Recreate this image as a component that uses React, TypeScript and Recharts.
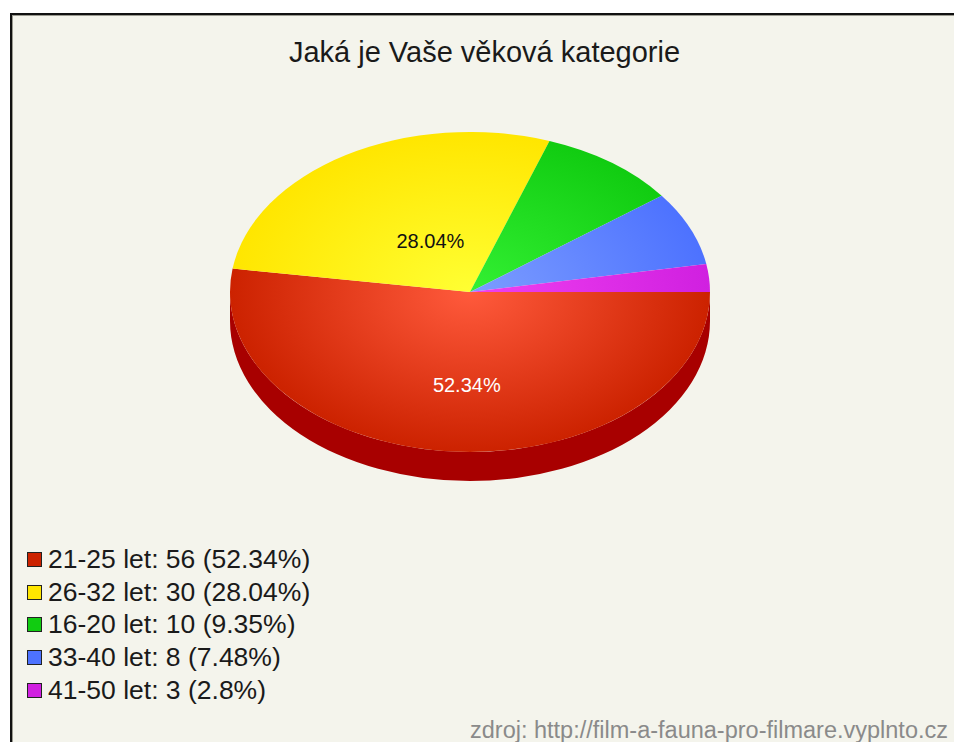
import React from "react";
import { PieChart, Pie, Cell, Legend } from "recharts";

const ageGroups = ["21-25", "26-32", "16-20", "33-40", "41-50"];
const counts = [56, 30, 10, 8, 3];
const sliceColors = ["#cc2200", "#ffe600", "#11cc11", "#4d72ff", "#d020e0"];
const centerColors = ["#ff5a3c", "#ffff33", "#33f033", "#7c9dff", "#f040f0"];
const sideColors = ["#a80000", "#c8b000", "#009900", "#2244cc", "#9900aa"];

const total = counts.reduce((a, b) => a + b, 0);
const fmtPct = (v: number) => `${parseFloat(((v / total) * 100).toFixed(2))}%`;

const chartData = ageGroups.map((g, i) => ({ name: g, value: counts[i] }));

const FLAT = 160 / 240;
const DEPTH = 29;
const FONT = '"Liberation Sans", Arial, Helvetica, sans-serif';

const pt = (cx: number, cy: number, rx: number, ry: number, deg: number) => {
  const r = (deg * Math.PI) / 180;
  return [cx + rx * Math.cos(r), cy - ry * Math.sin(r)];
};

function Slice3D(props: any) {
  const { cx, cy, outerRadius, startAngle, endAngle, index } = props;
  const rx = outerRadius;
  const ry = outerRadius * FLAT;
  const [sx, sy] = pt(cx, cy, rx, ry, startAngle);
  const [ex, ey] = pt(cx, cy, rx, ry, endAngle);
  const large = Math.abs(endAngle - startAngle) > 180 ? 1 : 0;
  const top = `M${cx},${cy} L${sx},${sy} A${rx},${ry} 0 ${large} 1 ${ex},${ey} Z`;

  // visible side wall: part of the slice in the front half (angles -180..0)
  const a = Math.max(Math.min(startAngle, endAngle), -180);
  const b = Math.min(Math.max(startAngle, endAngle), 0);
  let side = null;
  if (a < b) {
    const [bx, by] = pt(cx, cy, rx, ry, b);
    const [ax, ay] = pt(cx, cy, rx, ry, a);
    const d = `M${bx},${by} A${rx},${ry} 0 0 1 ${ax},${ay} L${ax},${ay + DEPTH} A${rx},${ry} 0 0 0 ${bx},${by + DEPTH} Z`;
    side = <path d={d} fill={sideColors[index]} />;
  }
  const gid = `slice-grad-${index}`;
  return (
    <g>
      <defs>
        <radialGradient
          id={gid}
          gradientUnits="userSpaceOnUse"
          cx={cx}
          cy={cy}
          r={rx}
          gradientTransform={`translate(${cx} ${cy}) scale(1 ${FLAT}) translate(${-cx} ${-cy})`}
        >
          <stop offset="0%" stopColor={centerColors[index]} />
          <stop offset="100%" stopColor={sliceColors[index]} />
        </radialGradient>
      </defs>
      {side}
      <path d={top} fill={`url(#${gid})`} />
    </g>
  );
}

function renderLabel(props: any) {
  const { cx, cy, outerRadius, midAngle, percent, index } = props;
  if (percent < 0.15) return null;
  const r = (midAngle * Math.PI) / 180;
  const down = -Math.sin(r);
  const f = 0.47 + 0.11 * down;
  const x = cx + outerRadius * f * Math.cos(r) + 7;
  const y = cy - outerRadius * FLAT * f * Math.sin(r);
  return (
    <text
      x={x}
      y={y}
      textAnchor="middle"
      dominantBaseline="central"
      fontFamily={FONT}
      fontSize={20}
      fill={index === 0 ? "#ffffff" : "#111111"}
    >
      {fmtPct(counts[index])}
    </text>
  );
}

function LegendBox() {
  return (
    <div style={{ fontFamily: FONT, fontSize: 26.5, color: "#1a1a1a" }}>
      {ageGroups.map((g, i) => (
        <div key={g} style={{ display: "flex", alignItems: "center", height: 32.8, whiteSpace: "nowrap" }}>
          <span
            style={{
              display: "inline-block",
              width: 13,
              height: 13,
              background: sliceColors[i],
              border: "1px solid #222",
              marginRight: 6,
            }}
          />
          <span>{`${g} let: ${counts[i]} (${fmtPct(counts[i])})`}</span>
        </div>
      ))}
    </div>
  );
}

export default function App() {
  return (
    <div
      style={{
        position: "fixed",
        left: 0,
        top: 0,
        width: 954,
        height: 742,
        background: "#ffffff",
        overflow: "hidden",
      }}
    >
      <div
        style={{
          position: "absolute",
          left: 10,
          top: 13,
          width: 960,
          height: 760,
          background: "#f4f4ec",
          borderTop: "2px solid #111",
          borderLeft: "2px solid #111",
          boxShadow: "inset 1px 1px 0 #9a9a90",
        }}
      />
      <div
        style={{
          position: "absolute",
          left: 0,
          width: 969,
          top: 36,
          textAlign: "center",
          fontFamily: FONT,
          fontSize: 29,
          color: "#1a1a1a",
        }}
      >
        Jaká je Vaše věková kategorie
      </div>
      <div style={{ position: "absolute", left: 0, top: 0 }}>
        <PieChart width={954} height={742} margin={{ top: 0, right: 0, bottom: 0, left: 0 }}>
          <Pie
            data={chartData}
            dataKey="value"
            nameKey="name"
            cx={470}
            cy={292}
            outerRadius={240}
            startAngle={0}
            endAngle={-360}
            stroke="none"
            shape={Slice3D}
            label={renderLabel}
            labelLine={false}
            isAnimationActive={false}
          >
            {chartData.map((d, i) => (
              <Cell key={d.name} fill={sliceColors[i]} />
            ))}
          </Pie>
          <Legend
            layout="horizontal"
            verticalAlign="bottom"
            align="left"
            content={() => <LegendBox />}
            wrapperStyle={{ left: 27, top: 543, bottom: "auto", width: 450 }}
          />
        </PieChart>
      </div>
      <div
        style={{
          position: "absolute",
          right: 6,
          top: 717,
          fontFamily: FONT,
          fontSize: 23.5,
          color: "#8a8a8a",
          whiteSpace: "nowrap",
        }}
      >
        zdroj: http://film-a-fauna-pro-filmare.vyplnto.cz
      </div>
    </div>
  );
}
